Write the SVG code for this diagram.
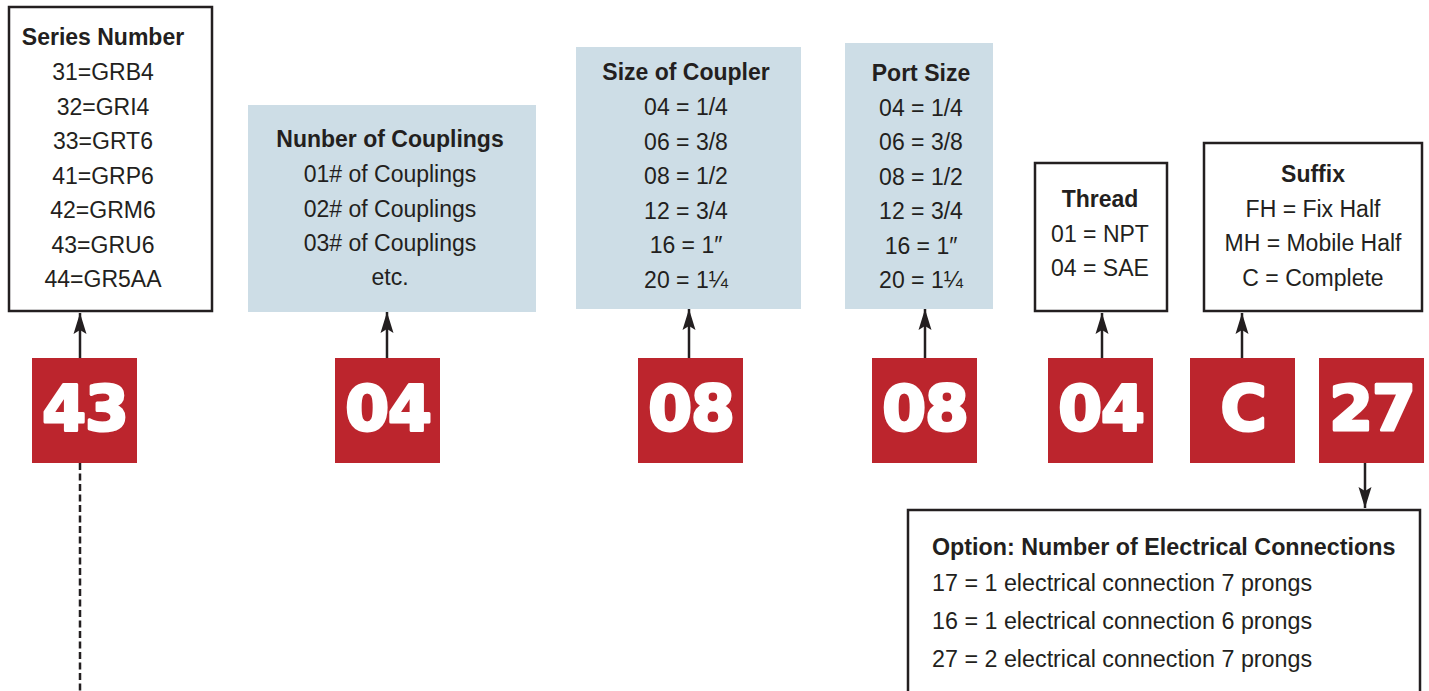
<svg xmlns="http://www.w3.org/2000/svg" width="1429" height="691" viewBox="0 0 1429 691">
<style>
.box{fill:#ffffff;stroke:#231f20;stroke-width:2.5}
.blue{fill:#cddde6;stroke:none}
.red{fill:#bc252d}
.t{font-family:"Liberation Sans",Arial,sans-serif;font-size:23px;fill:#231f20}
.b{font-weight:bold}
.c{text-anchor:middle}
.num{font-family:"DejaVu Sans",sans-serif;font-weight:bold;font-size:63px;fill:#ffffff;stroke:#ffffff;stroke-width:3;stroke-linejoin:round;text-anchor:middle;letter-spacing:-1px}
.ln{stroke:#231f20;stroke-width:2.5;fill:none}
</style>
<defs>
<marker id="ah" markerUnits="userSpaceOnUse" markerWidth="24" markerHeight="16" viewBox="-22 -8 24 16" refX="0" refY="0" orient="auto">
<path d="M0,0 L-21,-6.5 L-17,0 L-21,6.5 Z" fill="#231f20"/>
</marker>
</defs>
<g id="series">
<rect class="box" x="9" y="7" width="203" height="304"/>
<text class="t b c" x="103" y="45">Series Number</text>
<text class="t c" x="103" y="80">31=GRB4</text>
<text class="t c" x="103" y="114.5">32=GRI4</text>
<text class="t c" x="103" y="149">33=GRT6</text>
<text class="t c" x="103" y="183.5">41=GRP6</text>
<text class="t c" x="103" y="218">42=GRM6</text>
<text class="t c" x="103" y="252.5">43=GRU6</text>
<text class="t c" x="103" y="287">44=GR5AA</text>
</g>
<g id="couplings">
<rect class="blue" x="248" y="105" width="288" height="207"/>
<text class="t b c" x="390" y="147">Nunber of Couplings</text>
<text class="t c" x="390" y="182">01# of Couplings</text>
<text class="t c" x="390" y="216.5">02# of Couplings</text>
<text class="t c" x="390" y="251">03# of Couplings</text>
<text class="t c" x="390" y="285">etc.</text>
</g>
<g id="coupler-size">
<rect class="blue" x="576" y="47" width="225" height="262"/>
<text class="t b c" x="686" y="80">Size of Coupler</text>
<text class="t c" x="686" y="115">04 = 1/4</text>
<text class="t c" x="686" y="149.5">06 = 3/8</text>
<text class="t c" x="686" y="184">08 = 1/2</text>
<text class="t c" x="686" y="218.5">12 = 3/4</text>
<text class="t c" x="686" y="253">16 = 1″</text>
<text class="t c" x="686" y="287.5">20 = 1¼</text>
</g>
<g id="port-size">
<rect class="blue" x="845" y="43" width="148" height="266"/>
<text class="t b c" x="921" y="81">Port Size</text>
<text class="t c" x="921" y="115.5">04 = 1/4</text>
<text class="t c" x="921" y="150">06 = 3/8</text>
<text class="t c" x="921" y="184.5">08 = 1/2</text>
<text class="t c" x="921" y="219">12 = 3/4</text>
<text class="t c" x="921" y="253.5">16 = 1″</text>
<text class="t c" x="921" y="288">20 = 1¼</text>
</g>
<g id="thread">
<rect class="box" x="1035" y="163" width="132" height="148"/>
<text class="t b c" x="1100" y="207">Thread</text>
<text class="t c" x="1100" y="242">01 = NPT</text>
<text class="t c" x="1100" y="276">04 = SAE</text>
</g>
<g id="suffix">
<rect class="box" x="1204" y="143" width="218" height="168"/>
<text class="t b c" x="1313" y="182">Suffix</text>
<text class="t c" x="1313" y="217">FH = Fix Half</text>
<text class="t c" x="1313" y="251">MH = Mobile Half</text>
<text class="t c" x="1313" y="286">C = Complete</text>
</g>
<g id="option">
<rect class="box" x="908" y="510" width="512" height="200"/>
<text class="t b" x="932" y="555" style="font-size:23.3px">Option: Number of Electrical Connections</text>
<text class="t" x="932" y="591" style="font-size:23.3px">17 = 1 electrical connection 7 prongs</text>
<text class="t" x="932" y="629" style="font-size:23.3px">16 = 1 electrical connection 6 prongs</text>
<text class="t" x="932" y="667" style="font-size:23.3px">27 = 2 electrical connection 7 prongs</text>
</g>
<g id="code-43"><rect class="red" x="32" y="358" width="105" height="105"/><text class="num" x="85" y="430">43</text></g>
<g id="code-04a"><rect class="red" x="335" y="358" width="105" height="105"/><text class="num" x="388" y="430">04</text></g>
<g id="code-08a"><rect class="red" x="638" y="358" width="105" height="105"/><text class="num" x="691" y="430">08</text></g>
<g id="code-08b"><rect class="red" x="872" y="358" width="105" height="105"/><text class="num" x="925" y="430">08</text></g>
<g id="code-04b"><rect class="red" x="1048" y="358" width="105" height="105"/><text class="num" x="1101" y="430">04</text></g>
<g id="code-C"><rect class="red" x="1190" y="358" width="105" height="105"/><text class="num" x="1243" y="430">C</text></g>
<g id="code-27"><rect class="red" x="1319" y="358" width="105" height="105"/><text class="num" x="1372" y="430">27</text></g>
<g id="connectors">
<line class="ln" x1="80" y1="358" x2="80" y2="313" marker-end="url(#ah)"/>
<line class="ln" x1="387" y1="358" x2="387" y2="312" marker-end="url(#ah)"/>
<line class="ln" x1="689" y1="358" x2="689" y2="309" marker-end="url(#ah)"/>
<line class="ln" x1="925" y1="358" x2="925" y2="309" marker-end="url(#ah)"/>
<line class="ln" x1="1102" y1="358" x2="1102" y2="313" marker-end="url(#ah)"/>
<line class="ln" x1="1242" y1="358" x2="1242" y2="313" marker-end="url(#ah)"/>
<line class="ln" x1="1365" y1="463" x2="1365" y2="508" marker-end="url(#ah)"/>
<line class="ln" x1="80" y1="463" x2="80" y2="691" stroke-dasharray="7 3.5"/>
</g>
</svg>
